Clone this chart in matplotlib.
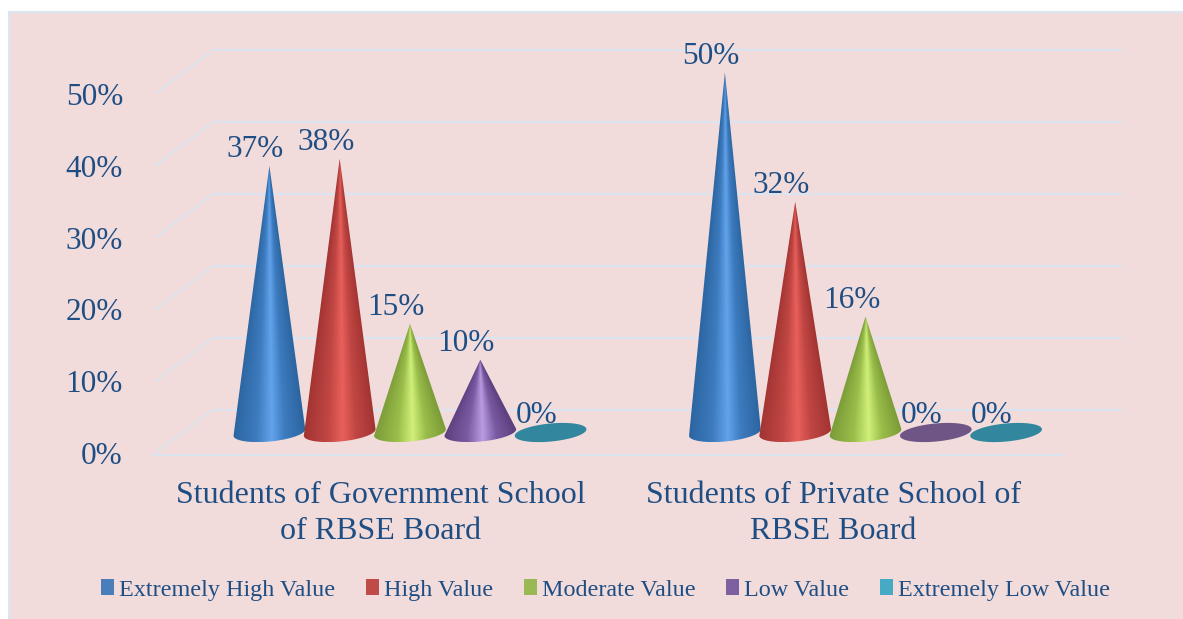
import numpy as np
import matplotlib
matplotlib.use("Agg")
import matplotlib.pyplot as plt
from matplotlib.patches import Polygon, Rectangle
from matplotlib.transforms import ScaledTranslation

plt.rcParams['font.family'] = ['Liberation Serif', 'DejaVu Serif']

groups = ["Students of Government School\nof RBSE Board", "Students of Private School of\nRBSE Board"]
series = ["Extremely High Value", "High Value", "Moderate Value", "Low Value", "Extremely Low Value"]
gov_values = [37, 38, 15, 10, 0]
priv_values = [50, 32, 16, 0, 0]
yticks = [0, 10, 20, 30, 40, 50]
legend_colors = ["#4a7ebb", "#be4b48", "#98b954", "#7d60a0", "#46aac5"]
shades = [("#2c65a0", "#3d7bbf", "#62a3ea"), ("#a23432", "#c04643", "#e9605b"),
          ("#7b9b38", "#9abd4a", "#d0f07a"), ("#5c3f7e", "#7a5aa2", "#b99ce1"),
          ("#2d7f96", "#32879f", "#3f9ab3")]
flat_colors = ["#3d74b0", "#b04542", "#8fb048", "#6f5585", "#32879f"]
TXT = "#1f4e84"

W, H = 1183, 619
PX_X, PX_Y = 455.5, 7.18          # pixels per category / per percentage point
X0, Y0 = 410.0, 431.5             # pixel of category 0, value 0
STEP = 70.3 / PX_X                # distance between series

fig = plt.figure(figsize=(W / 100, H / 100), dpi=100, facecolor="white")
ax = fig.add_axes([0, 0, 1, 1])
ax.set_axis_off()
xlim = (-X0 / PX_X, (W - X0) / PX_X)
ylim = ((Y0 - H) / PX_Y, Y0 / PX_Y)

ax.add_patch(Rectangle((9 / W, -0.05), 1.1, 1.05 - 12 / H, transform=ax.transAxes,
                       fc="#f2dcdb", ec="#dce6f2", lw=1.5, zorder=0))


def shifted(dx, dy):
    return ax.transData + ScaledTranslation(dx / 100, dy / 100, fig.dpi_scale_trans)


front = shifted(0, -23)
back = shifted(0, 22)
xl_front, xr_front = (153 - X0) / PX_X, (1062 - X0) / PX_X
xl_back, xr_back = (213 - X0) / PX_X, (1121 - X0) / PX_X
for v in yticks:
    ax.plot([xl_back, xr_back], [v, v], color="#dbe5f1", lw=1.5, transform=back, zorder=1)
    # side wall: joins the front and back planes
    ax.annotate("", xy=(xl_back, v), xycoords=back, xytext=(xl_front, v), textcoords=front,
                arrowprops=dict(arrowstyle="-", color="#dbe5f1", lw=1.2, ls=(0, (1, 0.6))), zorder=1)
    ax.text(xl_front, v, f"{v}%", transform=shifted(-30, -25),
            ha="right", va="center", fontsize=22.5, color=TXT, zorder=5)
ax.plot([xl_front, xr_front], [0, 0], color="#dbe5f1", lw=1.5, transform=front, zorder=1)

A, B, TILT = 36.0, 9.0, np.deg2rad(5.5)
t = np.linspace(0, 2 * np.pi, 200)
ex = A * np.cos(t) * np.cos(TILT) - B * np.sin(t) * np.sin(TILT)
ey = A * np.cos(t) * np.sin(TILT) + B * np.sin(t) * np.cos(TILT)


def draw_cone(xc, value, k):
    z = 3 + 0.1 * k
    ell = np.column_stack([xc + ex / PX_X, (ey - 1) / PX_Y])
    if value == 0:
        ax.add_patch(Polygon(ell, closed=True, fc=flat_colors[k], ec="none", zorder=z))
        return
    # outline: tip + lower half of the base ellipse
    lower = np.sin(t) <= 0.05
    tt = t[lower]
    tt = np.where(tt < 1, tt + 2 * np.pi, tt)
    tt = np.sort(tt)
    lx = A * np.cos(tt) * np.cos(TILT) - B * np.sin(tt) * np.sin(TILT)
    ly = A * np.cos(tt) * np.sin(TILT) + B * np.sin(tt) * np.cos(TILT)
    pts = np.vstack([[xc, value], np.column_stack([xc + lx / PX_X, (ly - 1) / PX_Y])])
    poly = Polygon(pts, closed=True, fc="none", ec="none", transform=ax.transData)
    ax.add_patch(poly)
    nx, ny = 160, max(80, int(value * PX_Y * 1.5))
    xs = np.linspace(-A - 1, A + 1, nx)
    ylo, yhi = -10 / PX_Y - 1 / PX_Y, value
    ys = np.linspace(ylo, yhi, ny)
    gx, gy = np.meshgrid(xs, ys)
    half = np.maximum(A * np.clip((value - gy) / value, 0.005, 1), 0.2)
    u = np.clip(gx / half, -1, 1)
    dark, mid, light = [np.array(matplotlib.colors.to_rgb(c)) for c in shades[k]]
    stops_u = [-1, -0.35, 0.08, 0.45, 1]
    rgb = np.stack([np.interp(u, stops_u, [dark[i], mid[i], light[i], mid[i], dark[i]]) for i in range(3)], axis=-1)
    im = ax.imshow(rgb, origin="lower", aspect="auto", interpolation="bilinear",
                   extent=[xc + xs[0] / PX_X, xc + xs[-1] / PX_X, ylo, yhi], zorder=z)
    im.set_clip_path(poly)


for g, vals in enumerate([gov_values, priv_values]):
    for k, v in enumerate(vals):
        xc = g + (k - 2) * STEP
        draw_cone(xc, v, k)
        ax.annotate(f"{v}%", xy=(xc, v), xytext=(-14 * 0.72, 16 * 0.72), textcoords="offset points",
                    ha="center", va="center", fontsize=22.5, color=TXT, zorder=6)
    ax.annotate(groups[g], xy=(g, 0), xytext=((-29.5 - 2.5 * g) * 0.72, -82 * 0.72), textcoords="offset points",
                ha="center", va="center", fontsize=23, color=TXT, linespacing=1.28, zorder=6)

handles = [Rectangle((0, 0), 1, 1, fc=c, ec="none") for c in legend_colors]
ax.legend(handles, series, ncol=5, loc="center", bbox_to_anchor=(605.5 / W, 1 - 590 / H),
          frameon=False, fontsize=17.4, handlelength=0.54, handleheight=0.6, handletextpad=0.2,
          columnspacing=1.28, labelcolor=TXT, borderpad=0, borderaxespad=0)

ax.set_xlim(xlim)
ax.set_ylim(ylim)
fig.savefig("out.png", dpi=100, facecolor="white")
